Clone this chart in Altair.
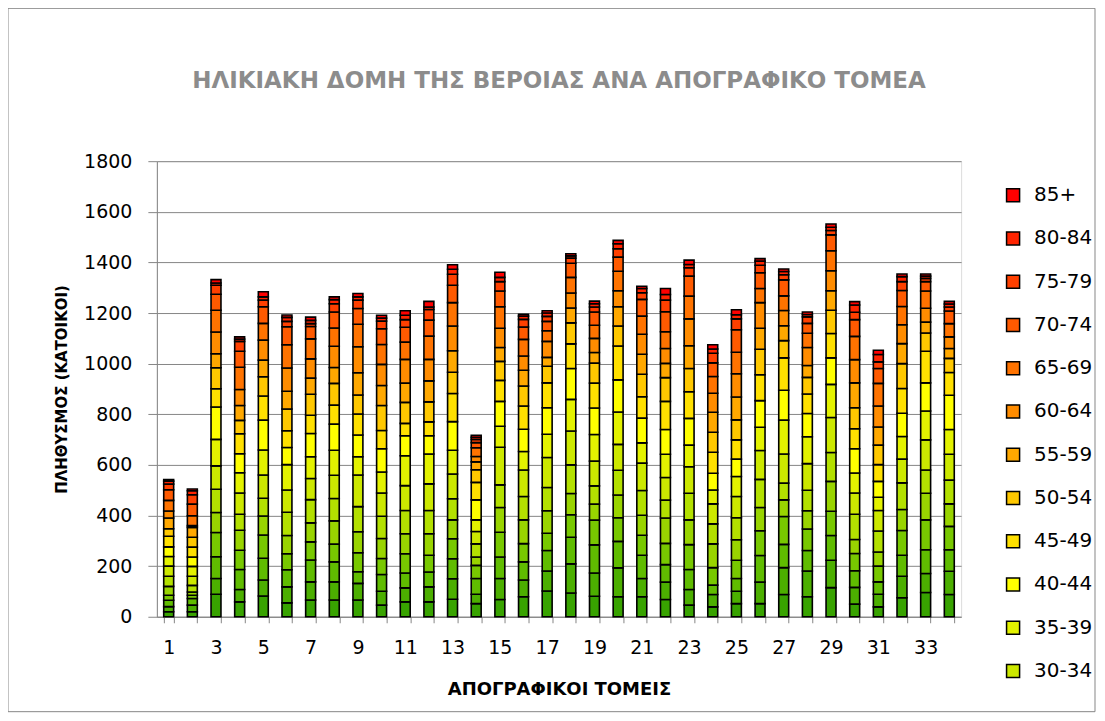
import altair as alt
import pandas as pd

sectors = list(range(1, 35))
age_groups = ["0-4", "5-9", "10-14", "15-19", "20-24", "25-29", "30-34", "35-39",
              "40-44", "45-49", "50-54", "55-59", "60-64", "65-69", "70-74",
              "75-79", "80-84", "85+"]
colors = ["#38a300", "#4caf00", "#60bc00", "#78c800", "#99d400", "#b3e000",
          "#cce800", "#e3f200", "#ffff00", "#ffe000", "#ffc800", "#ffa800",
          "#ff8c00", "#ff7300", "#ff5a00", "#ff4000", "#ff2400", "#ff0000"]
legend_values = ["85+", "80-84", "75-79", "70-74", "65-69", "60-64", "55-59",
                 "50-54", "45-49", "40-44", "35-39", "30-34"]

a0004 = [20,20,89,59,82,55,66,66,66,46,59,59,69,52,68,79,102,94,81,79,79,68,46,39,52,52,88,79,115,50,39,75,96,88]
a0509 = [20,26,62,49,63,63,72,72,66,55,55,59,81,37,83,66,79,115,92,114,72,69,62,49,49,85,106,102,108,66,50,85,75,92]
a1014 = [25,26,86,79,86,68,86,79,46,66,59,59,79,62,85,72,81,105,111,105,92,69,79,37,50,105,92,81,98,66,49,83,94,85]
a1519 = [20,13,96,76,92,63,72,70,75,63,76,66,79,52,98,72,68,89,98,93,79,84,98,69,72,98,110,85,96,68,62,98,118,92]
a2024 = [35,13,79,79,75,72,75,92,83,79,79,85,75,33,98,94,89,84,63,90,79,100,98,94,81,92,66,72,118,55,56,83,105,89]
a2529 = [40,26,92,63,70,92,92,88,99,88,92,92,83,52,89,92,92,113,72,98,98,71,105,79,87,111,66,81,114,100,83,105,92,94]
a3034 = [40,36,92,84,92,88,83,92,125,92,98,105,98,49,149,105,118,134,98,102,108,89,105,79,84,114,115,105,138,84,81,94,119,102]
a3539 = [38,39,105,80,99,100,86,99,72,83,118,118,94,46,83,73,92,125,105,128,80,92,85,55,79,92,134,106,131,79,52,89,114,98]
a4044 = [38,37,128,75,118,68,92,103,86,92,79,72,113,79,98,88,105,122,105,127,98,98,106,66,69,105,118,92,105,96,63,92,111,135]
a4549 = [42,39,72,79,95,66,72,75,83,72,49,55,111,69,83,92,98,97,98,134,84,111,105,83,76,102,128,77,96,79,66,98,125,90]
a5054 = [30,39,83,53,76,86,83,86,75,99,83,79,84,50,75,79,66,83,79,79,89,94,92,79,79,101,68,66,92,83,77,98,72,56]
a5559 = [42,39,55,59,66,70,64,63,88,79,76,83,85,31,55,62,35,59,42,76,79,56,90,79,90,83,59,47,77,98,72,79,43,39]
a6064 = [28,7,86,63,79,92,76,84,103,83,94,85,98,21,76,56,63,59,56,63,79,59,106,75,92,101,60,71,79,92,83,75,55,46]
a6569 = [42,39,86,88,66,92,79,72,89,79,68,92,92,35,85,66,42,62,52,77,72,66,90,66,85,56,58,56,79,92,89,72,68,52]
a7074 = [42,46,63,63,66,71,49,63,62,62,59,63,69,20,62,49,37,56,52,56,66,79,79,54,89,62,63,39,63,66,59,63,37,50]
a7579 = [22,37,36,39,26,21,11,33,33,30,30,42,43,13,37,30,20,20,20,33,26,46,33,38,43,30,20,26,17,29,26,35,13,16]
a8084 = [12,16,9,9,13,16,13,16,13,12,17,10,20,8,17,13,13,9,13,20,17,22,13,17,16,16,13,9,13,29,29,20,9,12]
a85p = [6,7,13,9,20,9,13,11,13,11,18,22,18,8,20,7,9,8,10,13,9,24,17,17,20,10,10,10,13,13,17,10,8,10]

series = [a0004, a0509, a1014, a1519, a2024, a2529, a3034, a3539, a4044,
          a4549, a5054, a5559, a6064, a6569, a7074, a7579, a8084, a85p]

rows = []
for idx, (age, vals) in enumerate(zip(age_groups, series)):
    for s, v in zip(sectors, vals):
        rows.append({"sector": s, "age": age, "idx": idx, "value": v})
df = pd.DataFrame(rows)

FONT = "DejaVu Sans"
GRAY = "#868686"

bars = alt.Chart(df).mark_bar(stroke="black", strokeWidth=1.6).encode(
    x=alt.X("sector:O", sort=sectors,
            scale=alt.Scale(paddingInner=0.58, paddingOuter=0.29),
            axis=alt.Axis(title="ΑΠΟΓΡΑΦΙΚΟΙ ΤΟΜΕΙΣ", labelAngle=0,
                          labelExpr="datum.value % 2 == 1 ? datum.label : ''",
                          tickBand="extent", tickSize=6, tickColor=GRAY,
                          domainColor=GRAY, labelFont=FONT, labelFontSize=19,
                          labelColor="black", labelPadding=16,
                          titleFont=FONT, titleFontSize=18, titleFontWeight="bold",
                          titleColor="black", titlePadding=23)),
    y=alt.Y("value:Q", stack="zero",
            scale=alt.Scale(domain=[0, 1800]),
            axis=alt.Axis(title="ΠΛΗΘΥΣΜΟΣ (ΚΑΤΟΙΚΟΙ)", format="d",
                          values=list(range(0, 1801, 200)),
                          grid=True, gridColor=GRAY, gridWidth=1,
                          tickSize=9, tickColor=GRAY, domainColor=GRAY,
                          labelFont=FONT, labelFontSize=19, labelColor="black",
                          labelPadding=16, titleFont=FONT, titleFontSize=15,
                          titleFontWeight="bold", titleColor="black",
                          titlePadding=14)),
    color=alt.Color("age:N",
                    scale=alt.Scale(domain=age_groups, range=colors),
                    legend=alt.Legend(title=None, values=legend_values,
                                      orient="none", legendX=847, legendY=24,
                                      symbolType="square", symbolSize=170,
                                      symbolStrokeColor="black",
                                      symbolStrokeWidth=1.5, symbolOpacity=1,
                                      labelFont=FONT, labelFontSize=20,
                                      labelColor="black", labelOffset=11,
                                      rowPadding=23.3)),
    order=alt.Order("idx:Q", sort="ascending"),
)

frame = alt.Chart(pd.DataFrame({"f": [0]})).mark_rect(
    fillOpacity=0, stroke=GRAY, strokeWidth=1
).encode(
    x=alt.value(-149), x2=alt.value(939), y=alt.value(-153), y2=alt.value(551)
)

chart = alt.layer(bars, frame).properties(
    width=805, height=456,
    title=alt.TitleParams("ΗΛΙΚΙΑΚΗ ΔΟΜΗ ΤΗΣ ΒΕΡΟΙΑΣ ΑΝΑ ΑΠΟΓΡΑΦΙΚΟ ΤΟΜΕΑ",
                          font=FONT, fontSize=23, fontWeight="bold",
                          color="#8c8c8c", anchor="middle", offset=-85),
    autosize=alt.AutoSizeParams(type="none"),
    padding={"left": 149, "top": 153, "right": 136, "bottom": 96},
).configure_view(strokeWidth=0).configure(background="white")

chart.save("out.html", embed_options={"renderer": "svg", "actions": False})
